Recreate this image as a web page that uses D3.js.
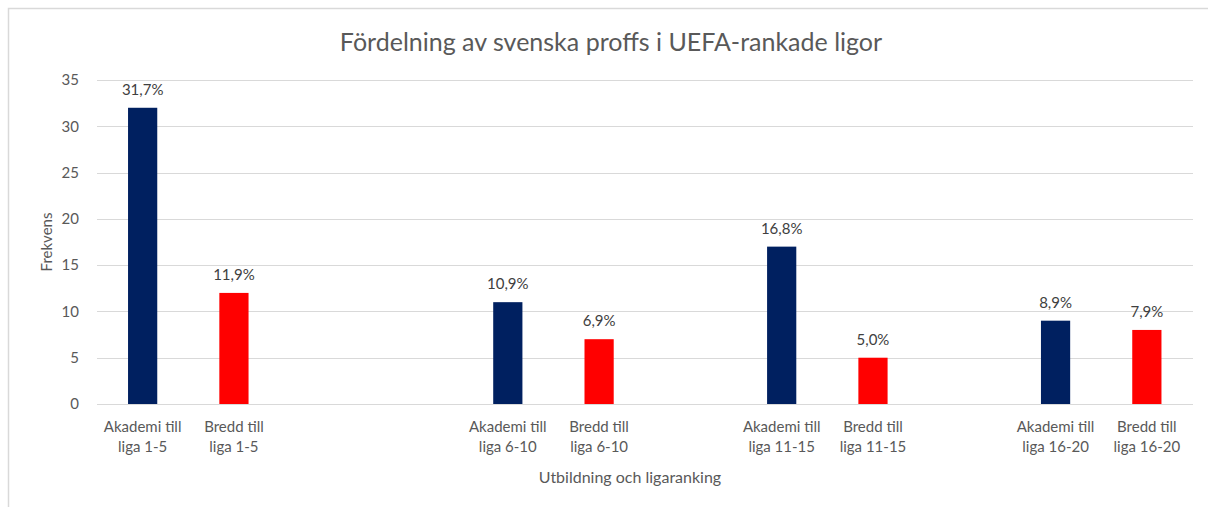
<!DOCTYPE html>
<html>
<head>
<meta charset="utf-8">
<script src="https://cdn.jsdelivr.net/npm/d3@7"></script>
<style>
  body { margin: 0; background: #fff; }
  svg { display: block; font-family: Lato, "Open Sans", sans-serif; }
</style>
</head>
<body>
<svg id="chart"></svg>
<script>
// slots on the x axis, blank ones are the gaps between the league groups
const categories = [
  ['Akademi till', 'liga 1-5'], ['Bredd till', 'liga 1-5'], ['', ''], ['', ''],
  ['Akademi till', 'liga 6-10'], ['Bredd till', 'liga 6-10'], ['', ''],
  ['Akademi till', 'liga 11-15'], ['Bredd till', 'liga 11-15'], ['', ''],
  ['Akademi till', 'liga 16-20'], ['Bredd till', 'liga 16-20']
];
const values = [32, 12, null, null, 11, 7, null, 17, 5, null, 9, 8];
const percentLabels = ['31,7%', '11,9%', '', '', '10,9%', '6,9%', '', '16,8%', '5,0%', '', '8,9%', '7,9%'];
const barKinds = ['akademi', 'bredd', '', '', 'akademi', 'bredd', '', 'akademi', 'bredd', '', 'akademi', 'bredd'];
const yTicks = [0, 5, 10, 15, 20, 25, 30, 35];

const width = 1208, height = 507;
const margin = { top: 80, right: 15, bottom: 103, left: 97 };
const colors = { akademi: '#002060', bredd: '#ff0000' };

const svg = d3.select('#chart')
  .attr('width', width)
  .attr('height', height);

// outer chart frame (partly outside the photo)
svg.append('rect')
  .attr('x', 8.5).attr('y', 8.5)
  .attr('width', 1240).attr('height', 560)
  .attr('fill', 'none')
  .attr('stroke', '#d9d9d9')
  .attr('stroke-width', 1.5);

const x = d3.scaleBand()
  .domain(d3.range(categories.length))
  .range([margin.left, width - margin.right - 0.5])
  .paddingInner(0.68)
  .paddingOuter(0.34);

const y = d3.scaleLinear()
  .domain([0, 35])
  .range([height - margin.bottom, margin.top]);

// gridlines
svg.append('g')
  .selectAll('line')
  .data(yTicks)
  .join('line')
  .attr('x1', margin.left)
  .attr('x2', width - margin.right)
  .attr('y1', d => Math.round(y(d)) + 0.5)
  .attr('y2', d => Math.round(y(d)) + 0.5)
  .attr('stroke', '#d9d9d9')
  .attr('stroke-width', 1);

// y tick labels
svg.append('g')
  .selectAll('text')
  .data(yTicks)
  .join('text')
  .attr('x', 79)
  .attr('y', d => y(d))
  .attr('dy', '0.35em')
  .attr('text-anchor', 'end')
  .attr('font-size', 15)
  .attr('fill', '#595959')
  .text(d => d);

const barData = values.map((v, i) => ({ i, v, kind: barKinds[i], label: percentLabels[i] }))
  .filter(d => d.v != null);

svg.append('g')
  .selectAll('rect')
  .data(barData)
  .join('rect')
  .attr('x', d => x(d.i))
  .attr('width', x.bandwidth())
  .attr('y', d => y(d.v))
  .attr('height', d => y(0) - y(d.v))
  .attr('fill', d => colors[d.kind]);

// percentage labels above bars
svg.append('g')
  .selectAll('text')
  .data(barData)
  .join('text')
  .attr('x', d => x(d.i) + x.bandwidth() / 2)
  .attr('y', d => y(d.v) - 13)
  .attr('text-anchor', 'middle')
  .attr('font-size', 15)
  .attr('fill', '#404040')
  .text(d => d.label);

// category labels, two lines each
const catG = svg.append('g')
  .selectAll('text')
  .data(categories.map((c, i) => ({ c, i })).filter(d => d.c[0]))
  .join('text')
  .attr('text-anchor', 'middle')
  .attr('font-size', 15)
  .attr('fill', '#595959');

catG.append('tspan')
  .attr('x', d => x(d.i) + x.bandwidth() / 2)
  .attr('y', 432)
  .text(d => d.c[0]);
catG.append('tspan')
  .attr('x', d => x(d.i) + x.bandwidth() / 2)
  .attr('y', 452)
  .text(d => d.c[1]);

// axis titles
svg.append('text')
  .attr('x', 630)
  .attr('y', 483)
  .attr('text-anchor', 'middle')
  .attr('font-size', 16)
  .attr('fill', '#595959')
  .text('Utbildning och ligaranking');

svg.append('text')
  .attr('transform', `translate(52, ${y(17.5)}) rotate(-90)`)
  .attr('text-anchor', 'middle')
  .attr('font-size', 15)
  .attr('fill', '#595959')
  .text('Frekvens');

// chart title
svg.append('text')
  .attr('x', 611)
  .attr('y', 51)
  .attr('text-anchor', 'middle')
  .attr('font-size', 25)
  .attr('fill', '#595959')
  .text('Fördelning av svenska proffs i UEFA-rankade ligor');
</script>
</body>
</html>
